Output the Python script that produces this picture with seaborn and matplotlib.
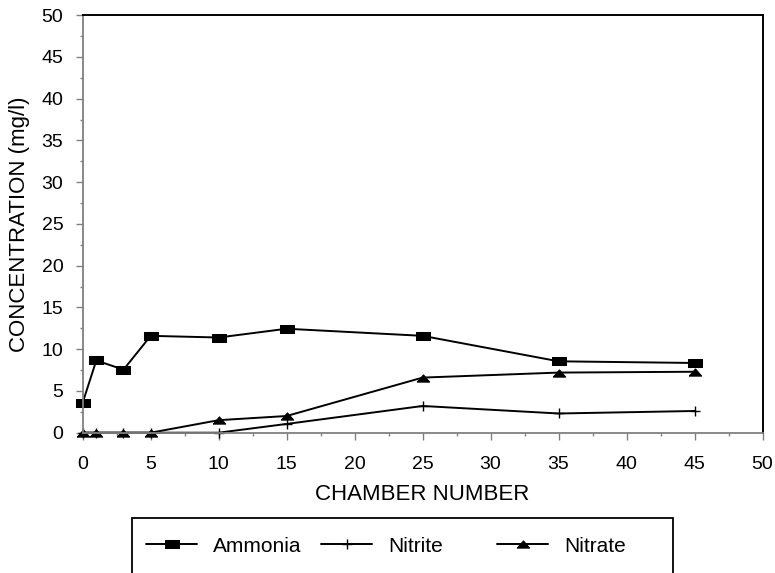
import matplotlib
matplotlib.use("Agg")
import matplotlib.pyplot as plt
from matplotlib.ticker import MultipleLocator
from matplotlib.patches import Rectangle
import seaborn as sns
import pandas as pd

chamber = [0, 1, 3, 5, 10, 15, 25, 35, 45]
ammonia = [3.6, 8.65, 7.55, 11.6, 11.4, 12.45, 11.6, 8.55, 8.35]
nitrite = [0, 0, 0, 0, 0, 1.05, 3.2, 2.3, 2.6]
nitrate = [0, 0, 0, 0, 1.5, 2.0, 6.6, 7.2, 7.3]
series_names = ["Ammonia", "Nitrite", "Nitrate"]

sns.set_theme(style="white")
plt.rcParams['font.family'] = ['Liberation Sans', 'DejaVu Sans']

fig = plt.figure(figsize=(7.75, 5.73), dpi=100)
ax = fig.add_axes([82.7/775, 1-432.7/573, (762.5-82.7)/775, (432.7-15.2)/573])

rect_marker = [(-1, -0.55), (1, -0.55), (1, 0.55), (-1, 0.55), (-1, -0.55)]
tri_marker = [(-1, -0.58), (1, -0.58), (0, 0.58), (-1, -0.58)]

df = pd.DataFrame({"chamber": chamber, "Ammonia": ammonia,
                   "Nitrite": nitrite, "Nitrate": nitrate})

styles = {
    "Ammonia": dict(marker=rect_marker, markersize=10.5),
    "Nitrite": dict(marker='+', markersize=6.5, markeredgewidth=1.0),
    "Nitrate": dict(marker=tri_marker, markersize=9),
}

handles = {}
for name in series_names:
    sns.lineplot(data=df, x="chamber", y=name, ax=ax, color="black",
                 linewidth=1.4, markeredgecolor="black", markerfacecolor="black",
                 clip_on=False, label=name, legend=False, **styles[name])
    handles[name] = ax.lines[-1]

ax.set_xlim(0, 50)
ax.set_ylim(0, 50)
ax.xaxis.set_major_locator(MultipleLocator(5))
ax.yaxis.set_major_locator(MultipleLocator(5))
ax.xaxis.set_minor_locator(MultipleLocator(2.5))
ax.yaxis.set_minor_locator(MultipleLocator(2.5))
ax.tick_params(which='major', direction='out', length=5, width=1, color='#808080',
               labelsize=14, labelcolor='black', bottom=True, left=True)
ax.tick_params(axis='x', which='major', pad=12)
ax.tick_params(axis='y', which='major', pad=9)
ax.tick_params(which='minor', direction='out', length=2.2, width=1, color='#808080',
               bottom=True, left=True)

for side in ['left', 'bottom']:
    ax.spines[side].set_color('#808080')
    ax.spines[side].set_linewidth(1.3)
for side in ['top', 'right']:
    ax.spines[side].set_color('black')
    ax.spines[side].set_linewidth(1.4)
ax.grid(False)

ax.set_xlabel("CHAMBER NUMBER", fontsize=16, labelpad=8, color='black')
ax.set_ylabel("CONCENTRATION (mg/l)", fontsize=16, labelpad=8, color='black')

# legend box (extends beyond bottom of figure, as in reference)
fig.patches.append(Rectangle((132/775, -0.1), (673-132)/775, 0.1 + 1-518.5/573,
                             transform=fig.transFigure, fill=False,
                             edgecolor='black', linewidth=1.3))

leg_x = {"Ammonia": 146/775, "Nitrite": 321/775, "Nitrate": 497/775}
leg_y = 1 - 546/573
for name in series_names:
    lg = fig.legend(handles=[handles[name]], labels=[name], loc='center left',
                    bbox_to_anchor=(leg_x[name], leg_y), frameon=False,
                    fontsize=15, handlelength=2.45, handletextpad=0.77,
                    borderpad=0, borderaxespad=0)
    for t in lg.get_texts():
        t.set_color('black')

fig.savefig("out.png", dpi=100)
